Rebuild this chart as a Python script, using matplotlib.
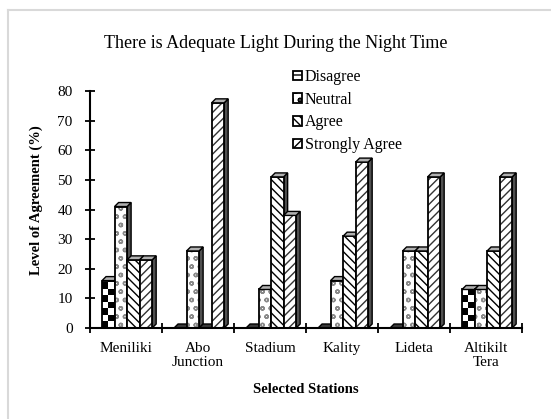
import matplotlib
matplotlib.use("Agg")
import matplotlib.pyplot as plt
from matplotlib.patches import Rectangle, Polygon
from matplotlib.lines import Line2D
import numpy as np

stations = ["Meniliki", "Abo\nJunction", "Stadium", "Kality", "Lideta", "Altikilt\nTera"]
series = ["Disagree", "Neutral", "Agree", "Strongly Agree"]
disagree = [16, 0, 0, 0, 0, 13]
neutral = [41, 26, 13, 16, 26, 13]
agree = [23, 0, 51, 31, 26, 26]
strongly_agree = [23, 76, 38, 56, 51, 51]
values = [disagree, neutral, agree, strongly_agree]

plt.rcParams["font.family"] = ["Liberation Serif", "DejaVu Serif"]
plt.rcParams["hatch.linewidth"] = 1.0

fig = plt.figure(figsize=(5.51, 4.19), dpi=100)
ax = fig.add_axes([90 / 551, 1 - 328 / 419, 432 / 551, 237 / 419])

w = 0.174
dx = 0.056
dy = 1.35
start = -0.333

# style per series: (face, hatch, hatch colour)
styles = [
    ("white", None, "black"),
    ("white", "oo", "#8a8a8a"),
    ("white", "\\\\\\\\", "black"),
    ("white", "////", "#333333"),
]


def checker(x0, h, z):
    # black/white squares for the "Disagree" fill
    sw = w / 2
    sh = 2.2
    rows = int(np.ceil(h / sh))
    for r in range(rows):
        for c in range(2):
            if (r + c) % 2 == 0:
                top = min((r + 1) * sh, h)
                ax.add_patch(Rectangle((x0 + c * sw, r * sh), sw, top - r * sh,
                                       facecolor="black", edgecolor="none", zorder=z))


z = 3
for i in range(len(stations)):
    for k, vals in enumerate(values):
        h = vals[i]
        x0 = i + start + k * w
        face, hatch, hc = styles[k]
        # side face
        side = Polygon([(x0 + w, 0), (x0 + w + dx, dy), (x0 + w + dx, h + dy), (x0 + w, h)],
                       closed=True, facecolor="#505050", edgecolor="black", lw=1.0, zorder=z)
        ax.add_patch(side)
        if h > 0:
            ax.add_patch(Rectangle((x0, 0), w, h, facecolor=face, edgecolor="none", zorder=z + 0.1))
            if k == 0:
                checker(x0, h, z + 0.2)
            elif hatch:
                ax.add_patch(Rectangle((x0, 0), w, h, facecolor="none", edgecolor=hc,
                                       hatch=hatch, lw=0, zorder=z + 0.2))
            ax.add_patch(Rectangle((x0, 0), w, h, facecolor="none", edgecolor="black",
                                   lw=1.3, zorder=z + 0.3))
        topc = "#b0b0b0" if h > 0 else "#3a3a3a"
        top = Polygon([(x0, h), (x0 + w, h), (x0 + w + dx, h + dy), (x0 + dx, h + dy)],
                      closed=True, facecolor=topc, edgecolor="black", lw=1.0, zorder=z + 0.4)
        ax.add_patch(top)
        z += 1

ax.set_xlim(-0.5, len(stations) - 0.5)
ax.set_ylim(0, 80)
ax.set_yticks(range(0, 81, 10))
ax.set_xticks(np.arange(-0.5, len(stations), 1.0))
ax.set_xticklabels([])
ax.set_xticks(range(len(stations)), minor=True)
ax.set_xticklabels(stations, minor=True, fontsize=11, linespacing=1.15)
ax.tick_params(axis="x", which="minor", length=0, pad=10)
ax.tick_params(axis="both", which="major", direction="inout", length=7, width=1.3, labelsize=11)
ax.tick_params(axis="y", pad=9)
for s in ["top", "right"]:
    ax.spines[s].set_visible(False)
for s in ["left", "bottom"]:
    ax.spines[s].set_linewidth(1.5)
    ax.spines[s].set_zorder(100)

ax.set_ylabel("Level of Agreement (%)", fontsize=10.5, fontweight="bold")
ax.yaxis.set_label_coords(-47 / 432, (328 - 200) / 237)
ax.set_xlabel("Selected Stations", fontsize=10.5, fontweight="bold", labelpad=10)
fig.text(0.5, 1 - 44 / 419, "There is Adequate Light During the Night Time",
         ha="center", va="center", fontsize=13)

handles = []
for k, name in enumerate(series):
    face, hatch, hc = styles[k]
    if k == 0:
        handles.append(Rectangle((0, 0), 1, 1, facecolor="white", edgecolor="black", hatch="---", lw=1.3))
    else:
        handles.append(Rectangle((0, 0), 1, 1, facecolor="white", edgecolor="black", hatch=hatch, lw=1.3))
fig.legend(handles, series, loc="upper left", bbox_to_anchor=(293 / 551, 1 - 69 / 419),
           frameon=False, fontsize=11.5, handlelength=0.55, handleheight=0.55,
           handletextpad=0.2, labelspacing=0.42, borderaxespad=0, borderpad=0)

# chart-area frame
fig.add_artist(Line2D([8 / 551, 8 / 551], [0, 1 - 10 / 419], color="#d9d9d9", lw=1.5))
fig.add_artist(Line2D([8 / 551, 1], [1 - 10 / 419, 1 - 10 / 419], color="#d9d9d9", lw=1.5))

fig.savefig("out.png", dpi=100)
